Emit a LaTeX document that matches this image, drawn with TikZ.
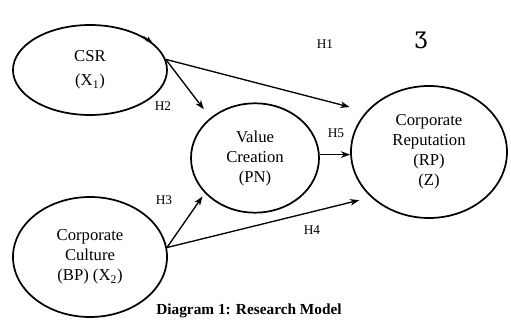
\documentclass[tikz,border=0pt]{standalone}
\usepackage{fontspec}
\setmainfont{Liberation Serif}
\newfontfamily\ezhfont{DejaVu Serif}
\usetikzlibrary{shapes.geometric,arrows.meta}

\begin{document}
\begin{tikzpicture}[x=0.75pt,y=-0.75pt,
  construct/.style={ellipse, draw, line width=1.3pt, inner sep=0pt, align=center,
    font=\fontsize{12.5}{15}\selectfont},
  link/.style={line width=1pt, -{Stealth[length=7pt,width=5pt]}},
  hyp/.style={font=\fontsize{10}{12}\selectfont}]

\fill[white] (0,0) rectangle (511,320);
\useasboundingbox (0,0) rectangle (511,320);

% constructs
\node[construct, minimum width=115.5pt, minimum height=67.5pt] (csr) at (90,70)
  {CSR\\[3pt](X\textsubscript{1})};
\node[construct, minimum width=96pt, minimum height=82pt] (vc) at (255,158)
  {Value\\Creation\\(PN)};
\node[construct, minimum width=117pt, minimum height=99pt] (cr) at (429,152)
  {Corporate\\Reputation\\(RP)\\(Z)};
\node[construct, minimum width=115.5pt, minimum height=90pt] (cc) at (90,257)
  {Corporate\\Culture\\(BP) (X\textsubscript{2})};

% hypothesised paths
\draw[link, shorten >=8pt] (csr.8) -- (vc.138);
\draw[link, shorten >=13pt] (csr.8) -- (cr.147);
\draw[link] (vc.3) -- (vc.3 -| cr.west);
\draw[link, shorten >=3pt] (cc.7) -- (vc.215);
\draw[link, shorten >=9pt] (cc.7) -- (cr.218);
\draw[line width=1pt, -{Stealth[length=5pt,width=4pt]}] (csr.32) -- (csr.24);

% path labels
\node[hyp] (h1) at (325,44) {H1};
\node[hyp] (h2) at (163,106) {H2};
\node[hyp] (h5) at (336,133) {H5};
\node[hyp] (h3) at (164,200) {H3};
\node[hyp] (h4) at (312,230) {H4};
\node[font=\ezhfont\fontsize{17}{17}\selectfont] (mark) at (421,40) {Ʒ};

% caption
\node[font=\bfseries\fontsize{11.5}{13}\selectfont] (cap) at (249,311)
  {Diagram 1: Research Model};
\end{tikzpicture}
\end{document}
